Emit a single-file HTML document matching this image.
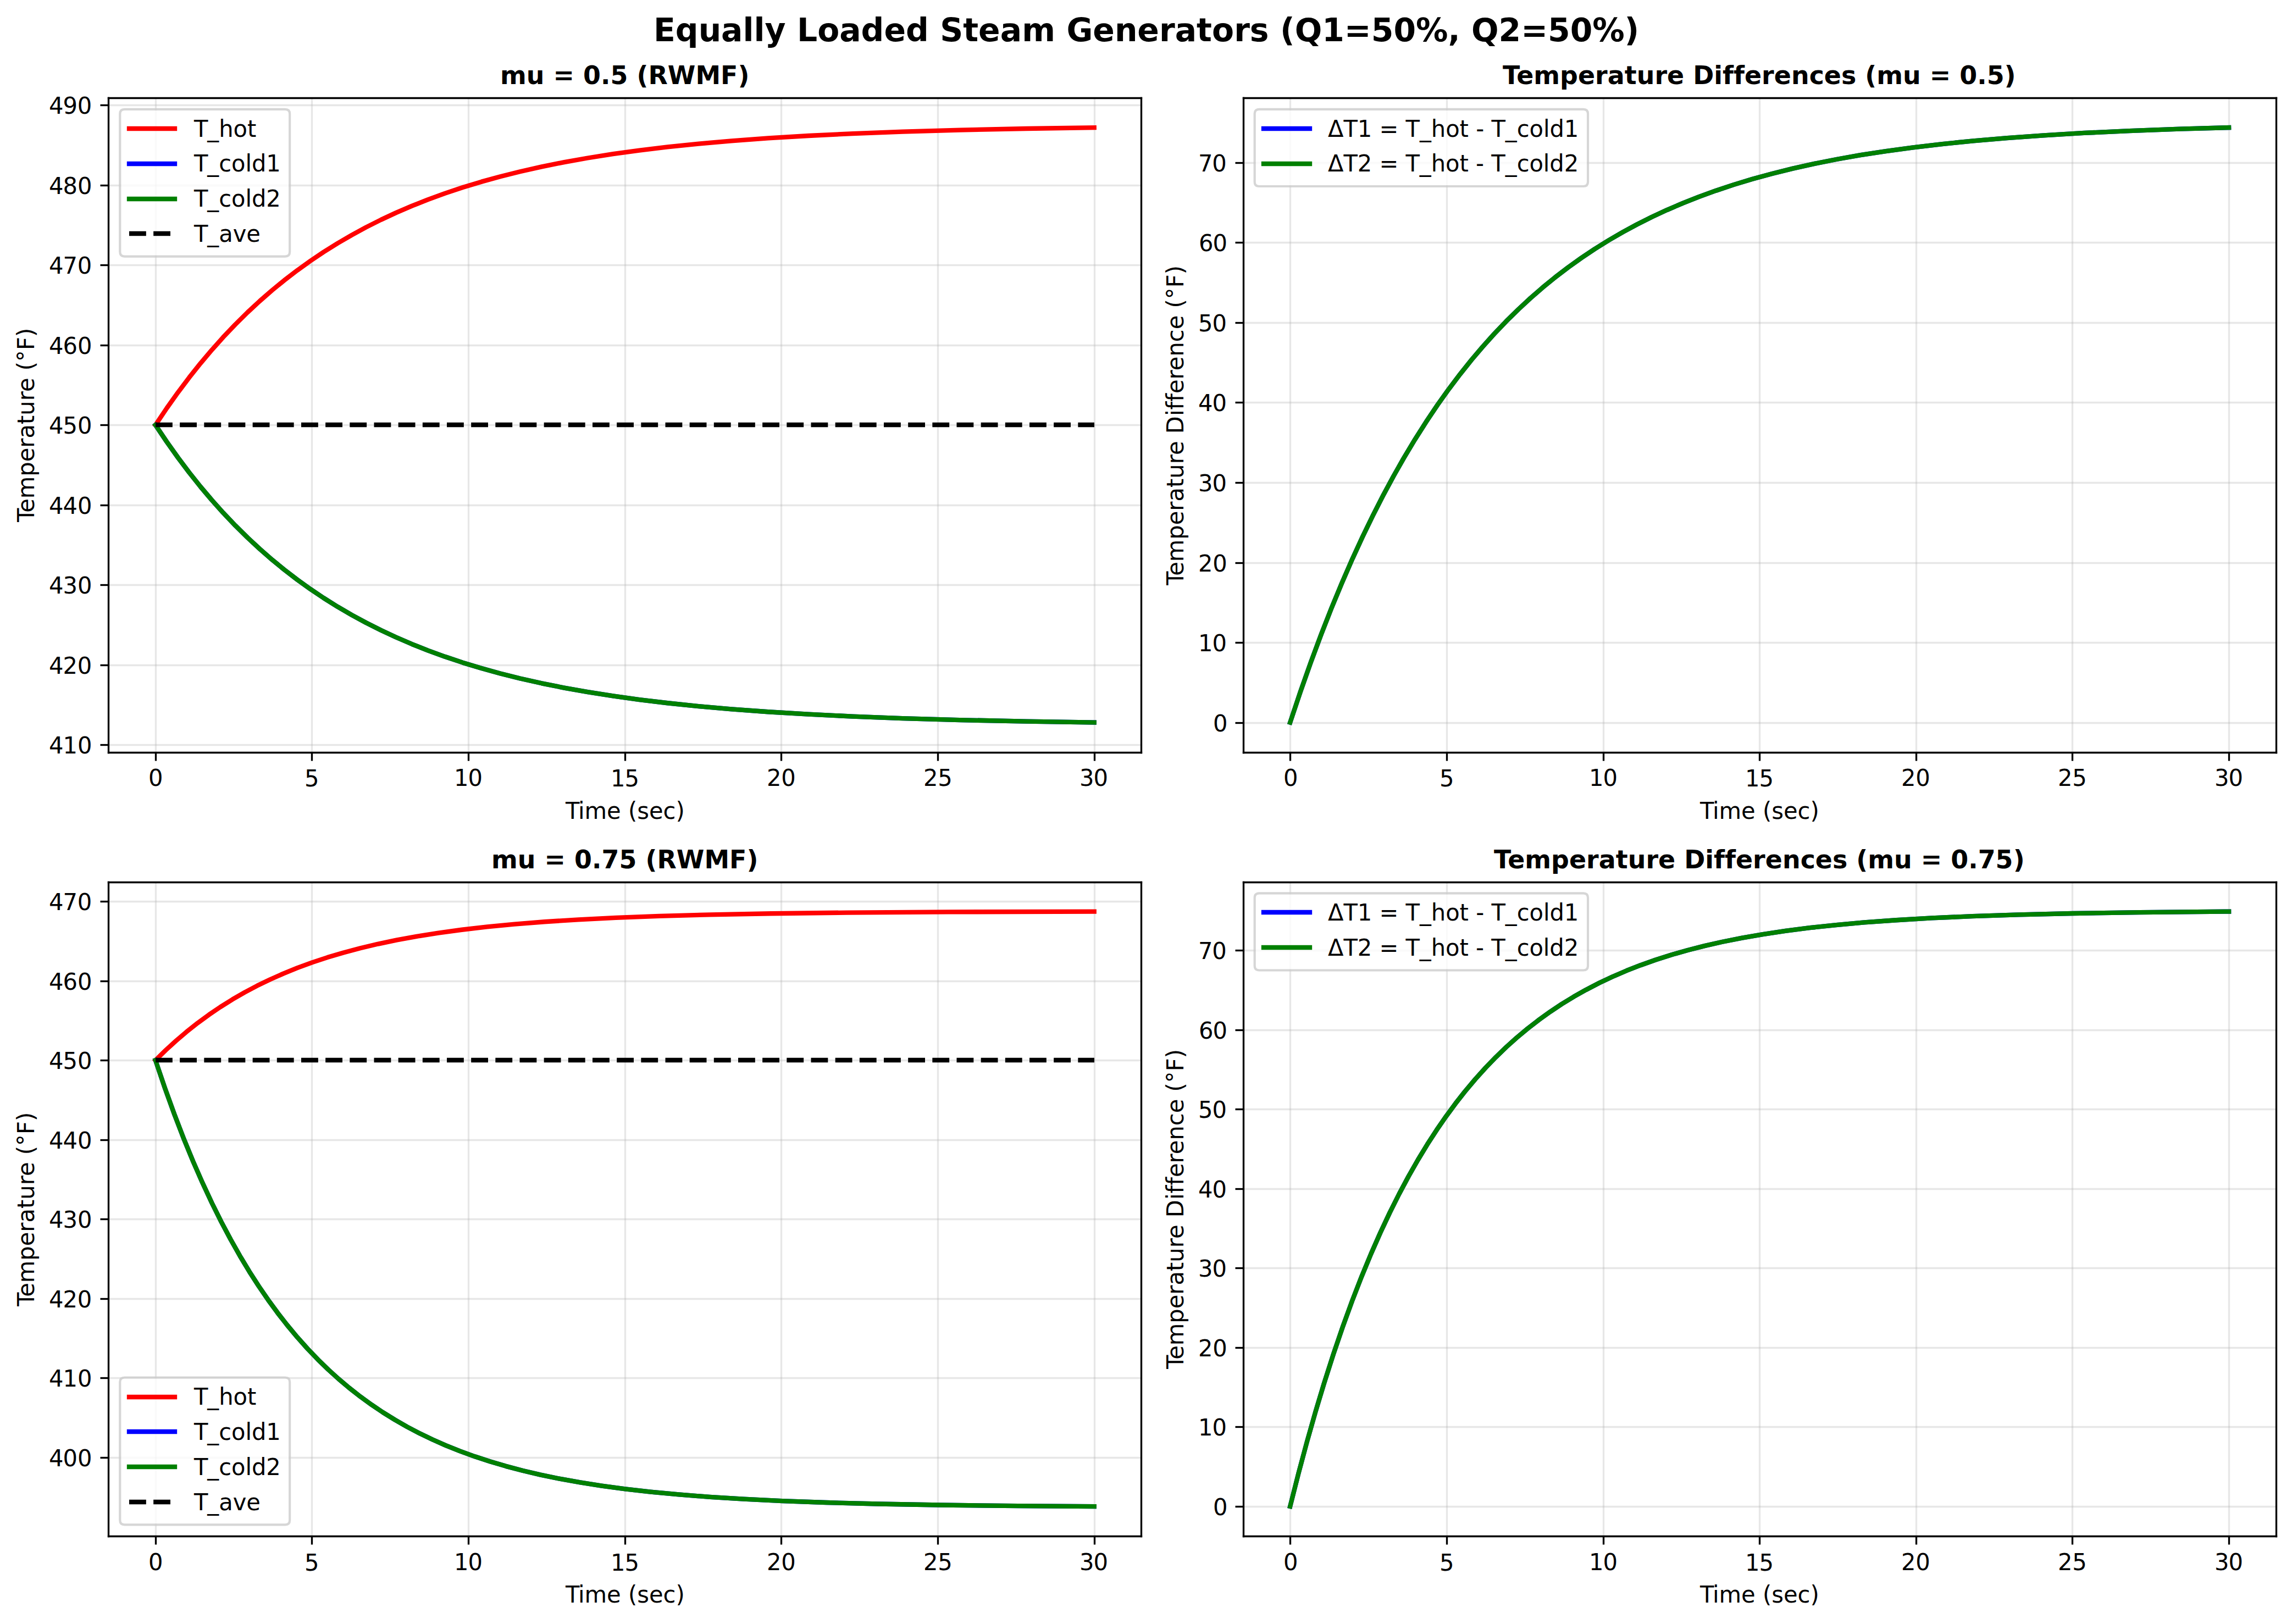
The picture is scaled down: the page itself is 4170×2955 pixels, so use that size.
<!DOCTYPE html>
<html lang="en"><head><meta charset="utf-8"><title>Equally Loaded Steam Generators</title>
<style>
html,body{margin:0;padding:0;background:#fff;width:4170px;height:2955px;overflow:hidden}
svg{display:block;position:absolute;left:0;top:0;font-family:"DejaVu Sans","Liberation Sans",sans-serif}
svg text{font-variant-ligatures:none;font-feature-settings:"liga" 0,"clig" 0;white-space:pre}
#fig{position:absolute;left:0;top:0;width:4170px;height:2955px;overflow:hidden;background:#fff}
</style></head><body>
<div id="fig">
<svg width="4170.500" height="2955.000" viewBox="0 0 1000.92 709.2">
 <defs>
  <style type="text/css">*{stroke-linejoin: round; stroke-linecap: butt}</style>
 </defs>
 <g id="figure_1">
  <g id="patch_1">
   <path d="M 0 709.2 L 1001.04 709.2 L 1001.04 0 L 0 0 z" style="fill: #ffffff"/>
  </g>
  <g id="axes_1">
   <g id="patch_2">
    <path d="M 47.28 328.56 L 498.24 328.56 L 498.24 42.72 L 47.28 42.72 z" style="fill: #ffffff"/>
   </g>
   <g id="matplotlib.axis_1">
    <g id="xtick_1">
     <g id="line2d_1">
      <path d="M 68.04 328.68 L 68.04 42.84" clip-path="url(#p6d84f502f7)" style="fill: none; stroke: #b0b0b0; stroke-opacity: 0.3; stroke-width: 0.8; stroke-linecap: square"/>
     </g>
     <g id="line2d_2">
      <defs>
       <path id="m1504cfccaf" d="M 0.12 0.12 L 0.12 3.72" style="stroke: #000000; stroke-width: 0.8"/>
      </defs>
      <g>
       <use href="#m1504cfccaf" x="67.92" y="328.56" style="stroke: #000000; stroke-width: 0.8"/>
      </g>
     </g>
     <g id="text_1">
      <text style="font-size: 10px; font-family: 'DejaVu Sans', 'Liberation Sans', sans-serif" transform="translate(64.56 343.2) scale(1 1.02)" x="0.24">0</text>
     </g>
    </g>
    <g id="xtick_2">
     <g id="line2d_3">
      <path d="M 136.2 328.68 L 136.2 42.84" clip-path="url(#p6d84f502f7)" style="fill: none; stroke: #b0b0b0; stroke-opacity: 0.3; stroke-width: 0.8; stroke-linecap: square"/>
     </g>
     <g id="line2d_4">
      <g>
       <use href="#m1504cfccaf" x="136.08" y="328.56" style="stroke: #000000; stroke-width: 0.8"/>
      </g>
     </g>
     <g id="text_2">
      <text style="font-size: 10px; font-family: 'DejaVu Sans', 'Liberation Sans', sans-serif" transform="translate(132.72 343.44) scale(1 1.02)" x="0.24">5</text>
     </g>
    </g>
    <g id="xtick_3">
     <g id="line2d_5">
      <path d="M 204.6 328.68 L 204.6 42.84" clip-path="url(#p6d84f502f7)" style="fill: none; stroke: #b0b0b0; stroke-opacity: 0.3; stroke-width: 0.8; stroke-linecap: square"/>
     </g>
     <g id="line2d_6">
      <g>
       <use href="#m1504cfccaf" x="204.48" y="328.56" style="stroke: #000000; stroke-width: 0.8"/>
      </g>
     </g>
     <g id="text_3">
      <text style="font-size: 10px; font-family: 'DejaVu Sans', 'Liberation Sans', sans-serif" transform="translate(198 343.2) scale(1 1.02)" x="0.24 6.36">10</text>
     </g>
    </g>
    <g id="xtick_4">
     <g id="line2d_7">
      <path d="M 273 328.68 L 273 42.84" clip-path="url(#p6d84f502f7)" style="fill: none; stroke: #b0b0b0; stroke-opacity: 0.3; stroke-width: 0.8; stroke-linecap: square"/>
     </g>
     <g id="line2d_8">
      <g>
       <use href="#m1504cfccaf" x="272.88" y="328.56" style="stroke: #000000; stroke-width: 0.8"/>
      </g>
     </g>
     <g id="text_4">
      <text style="font-size: 10px; font-family: 'DejaVu Sans', 'Liberation Sans', sans-serif" transform="translate(266.4 343.44) scale(1 1.02)" x="0.24 6.36">15</text>
     </g>
    </g>
    <g id="xtick_5">
     <g id="line2d_9">
      <path d="M 341.16 328.68 L 341.16 42.84" clip-path="url(#p6d84f502f7)" style="fill: none; stroke: #b0b0b0; stroke-opacity: 0.3; stroke-width: 0.8; stroke-linecap: square"/>
     </g>
     <g id="line2d_10">
      <g>
       <use href="#m1504cfccaf" x="341.04" y="328.56" style="stroke: #000000; stroke-width: 0.8"/>
      </g>
     </g>
     <g id="text_5">
      <text style="font-size: 10px; font-family: 'DejaVu Sans', 'Liberation Sans', sans-serif" transform="translate(334.8 343.2) scale(1 1.02)" x="0 6.33">20</text>
     </g>
    </g>
    <g id="xtick_6">
     <g id="line2d_11">
      <path d="M 409.56 328.68 L 409.56 42.84" clip-path="url(#p6d84f502f7)" style="fill: none; stroke: #b0b0b0; stroke-opacity: 0.3; stroke-width: 0.8; stroke-linecap: square"/>
     </g>
     <g id="line2d_12">
      <g>
       <use href="#m1504cfccaf" x="409.44" y="328.56" style="stroke: #000000; stroke-width: 0.8"/>
      </g>
     </g>
     <g id="text_6">
      <text style="font-size: 10px; font-family: 'DejaVu Sans', 'Liberation Sans', sans-serif" transform="translate(403.2 343.2) scale(1 1.02)" x="0 6.33">25</text>
     </g>
    </g>
    <g id="xtick_7">
     <g id="line2d_13">
      <path d="M 477.96 328.68 L 477.96 42.84" clip-path="url(#p6d84f502f7)" style="fill: none; stroke: #b0b0b0; stroke-opacity: 0.3; stroke-width: 0.8; stroke-linecap: square"/>
     </g>
     <g id="line2d_14">
      <g>
       <use href="#m1504cfccaf" x="477.84" y="328.56" style="stroke: #000000; stroke-width: 0.8"/>
      </g>
     </g>
     <g id="text_7">
      <text style="font-size: 10px; font-family: 'DejaVu Sans', 'Liberation Sans', sans-serif" transform="translate(471.12 343.2) scale(1 1.02)" x="0.24 6.39">30</text>
     </g>
    </g>
    <g id="text_8">
     <text style="font-size: 10px; font-family: 'DejaVu Sans', 'Liberation Sans', sans-serif" transform="translate(246.72 357.6) scale(1 1.02)" x="0.24 5.79 8.55 18.27 24.42 27.6 31.5 36.72 42.87 48.36">Time (sec)</text>
    </g>
   </g>
   <g id="matplotlib.axis_2">
    <g id="ytick_1">
     <g id="line2d_15">
      <path d="M 47.4 325.32 L 498.36 325.32" clip-path="url(#p6d84f502f7)" style="fill: none; stroke: #b0b0b0; stroke-opacity: 0.3; stroke-width: 0.8; stroke-linecap: square"/>
     </g>
     <g id="line2d_16">
      <defs>
       <path id="m5d545ce8f8" d="M 0.12 0.12 L -3.48 0.12" style="stroke: #000000; stroke-width: 0.8"/>
      </defs>
      <g>
       <use href="#m5d545ce8f8" x="47.28" y="325.2" style="stroke: #000000; stroke-width: 0.8"/>
      </g>
     </g>
     <g id="text_9">
      <text style="font-size: 10px; font-family: 'DejaVu Sans', 'Liberation Sans', sans-serif" transform="translate(21.12 329.04) scale(1 1.02)" x="0.24 6.36 12.72">410</text>
     </g>
    </g>
    <g id="ytick_2">
     <g id="line2d_17">
      <path d="M 47.4 290.52 L 498.36 290.52" clip-path="url(#p6d84f502f7)" style="fill: none; stroke: #b0b0b0; stroke-opacity: 0.3; stroke-width: 0.8; stroke-linecap: square"/>
     </g>
     <g id="line2d_18">
      <g>
       <use href="#m5d545ce8f8" x="47.28" y="290.4" style="stroke: #000000; stroke-width: 0.8"/>
      </g>
     </g>
     <g id="text_10">
      <text style="font-size: 10px; font-family: 'DejaVu Sans', 'Liberation Sans', sans-serif" transform="translate(21.12 294.24) scale(1 1.02)" x="0.24 6.36 12.69">420</text>
     </g>
    </g>
    <g id="ytick_3">
     <g id="line2d_19">
      <path d="M 47.4 255.48 L 498.36 255.48" clip-path="url(#p6d84f502f7)" style="fill: none; stroke: #b0b0b0; stroke-opacity: 0.3; stroke-width: 0.8; stroke-linecap: square"/>
     </g>
     <g id="line2d_20">
      <g>
       <use href="#m5d545ce8f8" x="47.28" y="255.36" style="stroke: #000000; stroke-width: 0.8"/>
      </g>
     </g>
     <g id="text_11">
      <text style="font-size: 10px; font-family: 'DejaVu Sans', 'Liberation Sans', sans-serif" transform="translate(21.12 259.2) scale(1 1.02)" x="0.24 6.36 12.75">430</text>
     </g>
    </g>
    <g id="ytick_4">
     <g id="line2d_21">
      <path d="M 47.4 220.68 L 498.36 220.68" clip-path="url(#p6d84f502f7)" style="fill: none; stroke: #b0b0b0; stroke-opacity: 0.3; stroke-width: 0.8; stroke-linecap: square"/>
     </g>
     <g id="line2d_22">
      <g>
       <use href="#m5d545ce8f8" x="47.28" y="220.56" style="stroke: #000000; stroke-width: 0.8"/>
      </g>
     </g>
     <g id="text_12">
      <text style="font-size: 10px; font-family: 'DejaVu Sans', 'Liberation Sans', sans-serif" transform="translate(21.12 224.4) scale(1 1.02)" x="0.24 6.36 12.72">440</text>
     </g>
    </g>
    <g id="ytick_5">
     <g id="line2d_23">
      <path d="M 47.4 185.64 L 498.36 185.64" clip-path="url(#p6d84f502f7)" style="fill: none; stroke: #b0b0b0; stroke-opacity: 0.3; stroke-width: 0.8; stroke-linecap: square"/>
     </g>
     <g id="line2d_24">
      <g>
       <use href="#m5d545ce8f8" x="47.28" y="185.52" style="stroke: #000000; stroke-width: 0.8"/>
      </g>
     </g>
     <g id="text_13">
      <text style="font-size: 10px; font-family: 'DejaVu Sans', 'Liberation Sans', sans-serif" transform="translate(21.12 189.36) scale(1 1.02)" x="0.24 6.36 12.72">450</text>
     </g>
    </g>
    <g id="ytick_6">
     <g id="line2d_25">
      <path d="M 47.4 150.84 L 498.36 150.84" clip-path="url(#p6d84f502f7)" style="fill: none; stroke: #b0b0b0; stroke-opacity: 0.3; stroke-width: 0.8; stroke-linecap: square"/>
     </g>
     <g id="line2d_26">
      <g>
       <use href="#m5d545ce8f8" x="47.28" y="150.72" style="stroke: #000000; stroke-width: 0.8"/>
      </g>
     </g>
     <g id="text_14">
      <text style="font-size: 10px; font-family: 'DejaVu Sans', 'Liberation Sans', sans-serif" transform="translate(21.12 154.56) scale(1 1.02)" x="0.24 6.36 12.72">460</text>
     </g>
    </g>
    <g id="ytick_7">
     <g id="line2d_27">
      <path d="M 47.4 115.8 L 498.36 115.8" clip-path="url(#p6d84f502f7)" style="fill: none; stroke: #b0b0b0; stroke-opacity: 0.3; stroke-width: 0.8; stroke-linecap: square"/>
     </g>
     <g id="line2d_28">
      <g>
       <use href="#m5d545ce8f8" x="47.28" y="115.68" style="stroke: #000000; stroke-width: 0.8"/>
      </g>
     </g>
     <g id="text_15">
      <text style="font-size: 10px; font-family: 'DejaVu Sans', 'Liberation Sans', sans-serif" transform="translate(21.12 119.52) scale(1 1.02)" x="0.24 6.36 12.69">470</text>
     </g>
    </g>
    <g id="ytick_8">
     <g id="line2d_29">
      <path d="M 47.4 81 L 498.36 81" clip-path="url(#p6d84f502f7)" style="fill: none; stroke: #b0b0b0; stroke-opacity: 0.3; stroke-width: 0.8; stroke-linecap: square"/>
     </g>
     <g id="line2d_30">
      <g>
       <use href="#m5d545ce8f8" x="47.28" y="80.88" style="stroke: #000000; stroke-width: 0.8"/>
      </g>
     </g>
     <g id="text_16">
      <text style="font-size: 10px; font-family: 'DejaVu Sans', 'Liberation Sans', sans-serif" transform="translate(21.12 84.72) scale(1 1.02)" x="0.24 6.36 12.75">480</text>
     </g>
    </g>
    <g id="ytick_9">
     <g id="line2d_31">
      <path d="M 47.4 45.96 L 498.36 45.96" clip-path="url(#p6d84f502f7)" style="fill: none; stroke: #b0b0b0; stroke-opacity: 0.3; stroke-width: 0.8; stroke-linecap: square"/>
     </g>
     <g id="line2d_32">
      <g>
       <use href="#m5d545ce8f8" x="47.28" y="45.84" style="stroke: #000000; stroke-width: 0.8"/>
      </g>
     </g>
     <g id="text_17">
      <text style="font-size: 10px; font-family: 'DejaVu Sans', 'Liberation Sans', sans-serif" transform="translate(21.12 49.68) scale(1 1.02)" x="0.24 6.36 12.69">490</text>
     </g>
    </g>
    <g id="text_18">
     <text style="font-size: 10px; font-family: 'DejaVu Sans', 'Liberation Sans', sans-serif" transform="translate(14.88 228.24) rotate(-90) scale(1 1.02)" x="0.24 4.38 10.53 20.25 26.58 32.73 36.84 42.96 46.89 53.22 57.12 63.27 66.45 70.35 75.36 81.12">Temperature (°F)</text>
    </g>
   </g>
   <g id="line2d_33">
    <path d="M 67.884545 185.6 L 72.80816 178.262221 L 77.731775 171.335555 L 82.655389 164.79697 L 87.579004 158.624721 L 92.502618 152.798284 L 97.426233 147.298285 L 102.760148 141.687141 L 108.094064 136.415762 L 113.42798 131.463573 L 118.761896 126.811247 L 124.095811 122.440627 L 129.840028 118.029308 L 135.584245 113.904966 L 141.328462 110.048931 L 147.48298 106.195398 L 153.637498 102.609825 L 159.792017 99.273579 L 166.356836 95.970219 L 172.921655 92.911295 L 179.896776 89.90881 L 186.871896 87.141824 L 194.257318 84.448256 L 202.053041 81.846776 L 210.259065 79.3532 L 218.46509 77.088094 L 227.081415 74.932745 L 236.518343 72.80874 L 246.365572 70.828941 L 256.623102 68.995588 L 267.701235 67.247919 L 279.189669 65.659767 L 291.498705 64.179332 L 305.038645 62.779325 L 319.399187 61.518098 L 335.400935 60.341291 L 353.043887 59.275452 L 372.328043 58.33666 L 394.074008 57.503625 L 419.102381 56.773906 L 448.233767 56.15459 L 477.775455 55.709091 L 477.775455 55.709091" clip-path="url(#p6d84f502f7)" style="fill: none; stroke: #ff0000; stroke-width: 2; stroke-linecap: square"/>
   </g>
   <g id="line2d_34">
    <path d="M 67.884545 185.6 L 72.80816 192.937779 L 77.731775 199.864445 L 82.655389 206.40303 L 87.579004 212.575279 L 92.502618 218.401716 L 97.426233 223.901715 L 102.760148 229.512859 L 108.094064 234.784238 L 113.42798 239.736427 L 118.761896 244.388753 L 124.095811 248.759373 L 129.840028 253.170692 L 135.584245 257.295034 L 141.328462 261.151069 L 147.48298 265.004602 L 153.637498 268.590175 L 159.792017 271.926421 L 166.356836 275.229781 L 172.921655 278.288705 L 179.896776 281.29119 L 186.871896 284.058176 L 194.257318 286.751744 L 202.053041 289.353224 L 210.259065 291.8468 L 218.46509 294.111906 L 227.081415 296.267255 L 236.518343 298.39126 L 246.365572 300.371059 L 256.623102 302.204412 L 267.701235 303.952081 L 279.189669 305.540233 L 291.498705 307.020668 L 305.038645 308.420675 L 319.399187 309.681902 L 335.400935 310.858709 L 353.043887 311.924548 L 372.328043 312.86334 L 394.074008 313.696375 L 419.102381 314.426094 L 448.233767 315.04541 L 477.775455 315.490909 L 477.775455 315.490909" clip-path="url(#p6d84f502f7)" style="fill: none; stroke: #0000ff; stroke-width: 2; stroke-linecap: square"/>
   </g>
   <g id="line2d_35">
    <path d="M 67.884545 185.6 L 72.80816 192.937779 L 77.731775 199.864445 L 82.655389 206.40303 L 87.579004 212.575279 L 92.502618 218.401716 L 97.426233 223.901715 L 102.760148 229.512859 L 108.094064 234.784238 L 113.42798 239.736427 L 118.761896 244.388753 L 124.095811 248.759373 L 129.840028 253.170692 L 135.584245 257.295034 L 141.328462 261.151069 L 147.48298 265.004602 L 153.637498 268.590175 L 159.792017 271.926421 L 166.356836 275.229781 L 172.921655 278.288705 L 179.896776 281.29119 L 186.871896 284.058176 L 194.257318 286.751744 L 202.053041 289.353224 L 210.259065 291.8468 L 218.46509 294.111906 L 227.081415 296.267255 L 236.518343 298.39126 L 246.365572 300.371059 L 256.623102 302.204412 L 267.701235 303.952081 L 279.189669 305.540233 L 291.498705 307.020668 L 305.038645 308.420675 L 319.399187 309.681902 L 335.400935 310.858709 L 353.043887 311.924548 L 372.328043 312.86334 L 394.074008 313.696375 L 419.102381 314.426094 L 448.233767 315.04541 L 477.775455 315.490909 L 477.775455 315.490909" clip-path="url(#p6d84f502f7)" style="fill: none; stroke: #008000; stroke-width: 2; stroke-linecap: square"/>
   </g>
   <g id="line2d_36">
    <path d="M 67.92 185.52 L 477.84 185.52 L 477.84 185.52" clip-path="url(#p6d84f502f7)" style="fill: none; stroke-dasharray: 7.4,3.2; stroke-dashoffset: 0; stroke: #000000; stroke-width: 2"/>
   </g>
   <g id="patch_3">
    <path d="M 47.4 328.68 L 47.4 42.84" style="fill: none; stroke: #000000; stroke-width: 0.8; stroke-linejoin: miter; stroke-linecap: square"/>
   </g>
   <g id="patch_4">
    <path d="M 498.36 328.68 L 498.36 42.84" style="fill: none; stroke: #000000; stroke-width: 0.8; stroke-linejoin: miter; stroke-linecap: square"/>
   </g>
   <g id="patch_5">
    <path d="M 47.4 328.68 L 498.36 328.68" style="fill: none; stroke: #000000; stroke-width: 0.8; stroke-linejoin: miter; stroke-linecap: square"/>
   </g>
   <g id="patch_6">
    <path d="M 47.4 42.84 L 498.36 42.84" style="fill: none; stroke: #000000; stroke-width: 0.8; stroke-linejoin: miter; stroke-linecap: square"/>
   </g>
   <g id="text_19">
    <text style="font-weight: 700; font-size: 11px; font-family: 'DejaVu Sans', 'Liberation Sans', sans-serif" transform="translate(218.4 36.72)" x="0 11.46 19.32 23.16 32.4 36.24 43.92 48.09 55.77 59.61 64.65 73.14 85.29 96.27 103.8">mu = 0.5 (RWMF)</text>
   </g>
   <g id="legend_1">
    <g id="patch_7">
     <path d="M 54.39 112 L 124.52 112 Q 126.52 112 126.52 110 L 126.52 49.72 Q 126.52 47.72 124.52 47.72 L 54.39 47.72 Q 52.39 47.72 52.39 49.72 L 52.39 110 Q 52.39 112 54.39 112 z" style="fill: #ffffff; opacity: 0.8; stroke: #cccccc; stroke-linejoin: miter"/>
    </g>
    <g id="line2d_37">
     <path d="M 56.4 56.16 L 66.48 56.16 L 76.32 56.16" style="fill: none; stroke: #ff0000; stroke-width: 2; stroke-linecap: square"/>
    </g>
    <g id="text_20">
     <text style="font-size: 10px; font-family: 'DejaVu Sans', 'Liberation Sans', sans-serif" transform="translate(84.48 59.76) scale(1 1.02)" x="0.24 6.09 11.1 17.43 23.52">T_hot</text>
    </g>
    <g id="line2d_38">
     <path d="M 56.4 71.52 L 66.48 71.52 L 76.32 71.52" style="fill: none; stroke: #0000ff; stroke-width: 2; stroke-linecap: square"/>
    </g>
    <g id="text_21">
     <text style="font-size: 10px; font-family: 'DejaVu Sans', 'Liberation Sans', sans-serif" transform="translate(84.48 74.88) scale(1 1.02)" x="0.24 6.09 11.1 16.59 22.68 25.44 31.77">T_cold1</text>
    </g>
    <g id="line2d_39">
     <path d="M 56.4 86.88 L 66.48 86.88 L 76.32 86.88" style="fill: none; stroke: #008000; stroke-width: 2; stroke-linecap: square"/>
    </g>
    <g id="text_22">
     <text style="font-size: 10px; font-family: 'DejaVu Sans', 'Liberation Sans', sans-serif" transform="translate(84.48 90.24) scale(1 1.02)" x="0.24 6.09 11.1 16.59 22.68 25.44 31.77">T_cold2</text>
    </g>
    <g id="line2d_40">
     <path d="M 56.4 102 L 66.48 102 L 76.32 102" style="fill: none; stroke-dasharray: 7.4,3.2; stroke-dashoffset: 0; stroke: #000000; stroke-width: 2"/>
    </g>
    <g id="text_23">
     <text style="font-size: 10px; font-family: 'DejaVu Sans', 'Liberation Sans', sans-serif" transform="translate(84.48 105.6) scale(1 1.02)" x="0.24 6.09 11.1 17.22 23.13">T_ave</text>
    </g>
   </g>
  </g>
  <g id="axes_2">
   <g id="patch_8">
    <path d="M 542.88 328.56 L 993.84 328.56 L 993.84 42.72 L 542.88 42.72 z" style="fill: #ffffff"/>
   </g>
   <g id="matplotlib.axis_3">
    <g id="xtick_8">
     <g id="line2d_41">
      <path d="M 563.4 328.68 L 563.4 42.84" clip-path="url(#pb126fd6c91)" style="fill: none; stroke: #b0b0b0; stroke-opacity: 0.3; stroke-width: 0.8; stroke-linecap: square"/>
     </g>
     <g id="line2d_42">
      <g>
       <use href="#m1504cfccaf" x="563.28" y="328.56" style="stroke: #000000; stroke-width: 0.8"/>
      </g>
     </g>
     <g id="text_24">
      <text style="font-size: 10px; font-family: 'DejaVu Sans', 'Liberation Sans', sans-serif" transform="translate(560.16 343.2) scale(1 1.02)" x="0.24">0</text>
     </g>
    </g>
    <g id="xtick_9">
     <g id="line2d_43">
      <path d="M 631.8 328.68 L 631.8 42.84" clip-path="url(#pb126fd6c91)" style="fill: none; stroke: #b0b0b0; stroke-opacity: 0.3; stroke-width: 0.8; stroke-linecap: square"/>
     </g>
     <g id="line2d_44">
      <g>
       <use href="#m1504cfccaf" x="631.68" y="328.56" style="stroke: #000000; stroke-width: 0.8"/>
      </g>
     </g>
     <g id="text_25">
      <text style="font-size: 10px; font-family: 'DejaVu Sans', 'Liberation Sans', sans-serif" transform="translate(628.32 343.44) scale(1 1.02)" x="0.24">5</text>
     </g>
    </g>
    <g id="xtick_10">
     <g id="line2d_45">
      <path d="M 700.2 328.68 L 700.2 42.84" clip-path="url(#pb126fd6c91)" style="fill: none; stroke: #b0b0b0; stroke-opacity: 0.3; stroke-width: 0.8; stroke-linecap: square"/>
     </g>
     <g id="line2d_46">
      <g>
       <use href="#m1504cfccaf" x="700.08" y="328.56" style="stroke: #000000; stroke-width: 0.8"/>
      </g>
     </g>
     <g id="text_26">
      <text style="font-size: 10px; font-family: 'DejaVu Sans', 'Liberation Sans', sans-serif" transform="translate(693.6 343.2) scale(1 1.02)" x="0.24 6.36">10</text>
     </g>
    </g>
    <g id="xtick_11">
     <g id="line2d_47">
      <path d="M 768.36 328.68 L 768.36 42.84" clip-path="url(#pb126fd6c91)" style="fill: none; stroke: #b0b0b0; stroke-opacity: 0.3; stroke-width: 0.8; stroke-linecap: square"/>
     </g>
     <g id="line2d_48">
      <g>
       <use href="#m1504cfccaf" x="768.24" y="328.56" style="stroke: #000000; stroke-width: 0.8"/>
      </g>
     </g>
     <g id="text_27">
      <text style="font-size: 10px; font-family: 'DejaVu Sans', 'Liberation Sans', sans-serif" transform="translate(761.76 343.44) scale(1 1.02)" x="0.24 6.36">15</text>
     </g>
    </g>
    <g id="xtick_12">
     <g id="line2d_49">
      <path d="M 836.76 328.68 L 836.76 42.84" clip-path="url(#pb126fd6c91)" style="fill: none; stroke: #b0b0b0; stroke-opacity: 0.3; stroke-width: 0.8; stroke-linecap: square"/>
     </g>
     <g id="line2d_50">
      <g>
       <use href="#m1504cfccaf" x="836.64" y="328.56" style="stroke: #000000; stroke-width: 0.8"/>
      </g>
     </g>
     <g id="text_28">
      <text style="font-size: 10px; font-family: 'DejaVu Sans', 'Liberation Sans', sans-serif" transform="translate(830.16 343.2) scale(1 1.02)" x="0 6.33">20</text>
     </g>
    </g>
    <g id="xtick_13">
     <g id="line2d_51">
      <path d="M 904.92 328.68 L 904.92 42.84" clip-path="url(#pb126fd6c91)" style="fill: none; stroke: #b0b0b0; stroke-opacity: 0.3; stroke-width: 0.8; stroke-linecap: square"/>
     </g>
     <g id="line2d_52">
      <g>
       <use href="#m1504cfccaf" x="904.8" y="328.56" style="stroke: #000000; stroke-width: 0.8"/>
      </g>
     </g>
     <g id="text_29">
      <text style="font-size: 10px; font-family: 'DejaVu Sans', 'Liberation Sans', sans-serif" transform="translate(898.56 343.2) scale(1 1.02)" x="0 6.33">25</text>
     </g>
    </g>
    <g id="xtick_14">
     <g id="line2d_53">
      <path d="M 973.32 328.68 L 973.32 42.84" clip-path="url(#pb126fd6c91)" style="fill: none; stroke: #b0b0b0; stroke-opacity: 0.3; stroke-width: 0.8; stroke-linecap: square"/>
     </g>
     <g id="line2d_54">
      <g>
       <use href="#m1504cfccaf" x="973.2" y="328.56" style="stroke: #000000; stroke-width: 0.8"/>
      </g>
     </g>
     <g id="text_30">
      <text style="font-size: 10px; font-family: 'DejaVu Sans', 'Liberation Sans', sans-serif" transform="translate(966.72 343.2) scale(1 1.02)" x="0.24 6.39">30</text>
     </g>
    </g>
    <g id="text_31">
     <text style="font-size: 10px; font-family: 'DejaVu Sans', 'Liberation Sans', sans-serif" transform="translate(742.08 357.6) scale(1 1.02)" x="0.24 5.79 8.55 18.27 24.42 27.6 31.5 36.72 42.87 48.36">Time (sec)</text>
    </g>
   </g>
   <g id="matplotlib.axis_4">
    <g id="ytick_10">
     <g id="line2d_55">
      <path d="M 543 315.72 L 993.96 315.72" clip-path="url(#pb126fd6c91)" style="fill: none; stroke: #b0b0b0; stroke-opacity: 0.3; stroke-width: 0.8; stroke-linecap: square"/>
     </g>
     <g id="line2d_56">
      <g>
       <use href="#m5d545ce8f8" x="542.88" y="315.6" style="stroke: #000000; stroke-width: 0.8"/>
      </g>
     </g>
     <g id="text_32">
      <text style="font-size: 10px; font-family: 'DejaVu Sans', 'Liberation Sans', sans-serif" transform="translate(529.44 319.44) scale(1 1.02)" x="0.24">0</text>
     </g>
    </g>
    <g id="ytick_11">
     <g id="line2d_57">
      <path d="M 543 280.68 L 993.96 280.68" clip-path="url(#pb126fd6c91)" style="fill: none; stroke: #b0b0b0; stroke-opacity: 0.3; stroke-width: 0.8; stroke-linecap: square"/>
     </g>
     <g id="line2d_58">
      <g>
       <use href="#m5d545ce8f8" x="542.88" y="280.56" style="stroke: #000000; stroke-width: 0.8"/>
      </g>
     </g>
     <g id="text_33">
      <text style="font-size: 10px; font-family: 'DejaVu Sans', 'Liberation Sans', sans-serif" transform="translate(522.96 284.4) scale(1 1.02)" x="0.24 6.36">10</text>
     </g>
    </g>
    <g id="ytick_12">
     <g id="line2d_59">
      <path d="M 543 245.88 L 993.96 245.88" clip-path="url(#pb126fd6c91)" style="fill: none; stroke: #b0b0b0; stroke-opacity: 0.3; stroke-width: 0.8; stroke-linecap: square"/>
     </g>
     <g id="line2d_60">
      <g>
       <use href="#m5d545ce8f8" x="542.88" y="245.76" style="stroke: #000000; stroke-width: 0.8"/>
      </g>
     </g>
     <g id="text_34">
      <text style="font-size: 10px; font-family: 'DejaVu Sans', 'Liberation Sans', sans-serif" transform="translate(523.2 249.6) scale(1 1.02)" x="0 6.33">20</text>
     </g>
    </g>
    <g id="ytick_13">
     <g id="line2d_61">
      <path d="M 543 210.84 L 993.96 210.84" clip-path="url(#pb126fd6c91)" style="fill: none; stroke: #b0b0b0; stroke-opacity: 0.3; stroke-width: 0.8; stroke-linecap: square"/>
     </g>
     <g id="line2d_62">
      <g>
       <use href="#m5d545ce8f8" x="542.88" y="210.72" style="stroke: #000000; stroke-width: 0.8"/>
      </g>
     </g>
     <g id="text_35">
      <text style="font-size: 10px; font-family: 'DejaVu Sans', 'Liberation Sans', sans-serif" transform="translate(522.96 214.56) scale(1 1.02)" x="0.24 6.39">30</text>
     </g>
    </g>
    <g id="ytick_14">
     <g id="line2d_63">
      <path d="M 543 175.8 L 993.96 175.8" clip-path="url(#pb126fd6c91)" style="fill: none; stroke: #b0b0b0; stroke-opacity: 0.3; stroke-width: 0.8; stroke-linecap: square"/>
     </g>
     <g id="line2d_64">
      <g>
       <use href="#m5d545ce8f8" x="542.88" y="175.68" style="stroke: #000000; stroke-width: 0.8"/>
      </g>
     </g>
     <g id="text_36">
      <text style="font-size: 10px; font-family: 'DejaVu Sans', 'Liberation Sans', sans-serif" transform="translate(522.96 179.52) scale(1 1.02)" x="0.24 6.36">40</text>
     </g>
    </g>
    <g id="ytick_15">
     <g id="line2d_65">
      <path d="M 543 141 L 993.96 141" clip-path="url(#pb126fd6c91)" style="fill: none; stroke: #b0b0b0; stroke-opacity: 0.3; stroke-width: 0.8; stroke-linecap: square"/>
     </g>
     <g id="line2d_66">
      <g>
       <use href="#m5d545ce8f8" x="542.88" y="140.88" style="stroke: #000000; stroke-width: 0.8"/>
      </g>
     </g>
     <g id="text_37">
      <text style="font-size: 10px; font-family: 'DejaVu Sans', 'Liberation Sans', sans-serif" transform="translate(522.96 144.72) scale(1 1.02)" x="0.24 6.36">50</text>
     </g>
    </g>
    <g id="ytick_16">
     <g id="line2d_67">
      <path d="M 543 105.96 L 993.96 105.96" clip-path="url(#pb126fd6c91)" style="fill: none; stroke: #b0b0b0; stroke-opacity: 0.3; stroke-width: 0.8; stroke-linecap: square"/>
     </g>
     <g id="line2d_68">
      <g>
       <use href="#m5d545ce8f8" x="542.88" y="105.84" style="stroke: #000000; stroke-width: 0.8"/>
      </g>
     </g>
     <g id="text_38">
      <text style="font-size: 10px; font-family: 'DejaVu Sans', 'Liberation Sans', sans-serif" transform="translate(523.2 109.68) scale(1 1.02)" x="0.24 6.36">60</text>
     </g>
    </g>
    <g id="ytick_17">
     <g id="line2d_69">
      <path d="M 543 71.16 L 993.96 71.16" clip-path="url(#pb126fd6c91)" style="fill: none; stroke: #b0b0b0; stroke-opacity: 0.3; stroke-width: 0.8; stroke-linecap: square"/>
     </g>
     <g id="line2d_70">
      <g>
       <use href="#m5d545ce8f8" x="542.88" y="71.04" style="stroke: #000000; stroke-width: 0.8"/>
      </g>
     </g>
     <g id="text_39">
      <text style="font-size: 10px; font-family: 'DejaVu Sans', 'Liberation Sans', sans-serif" transform="translate(522.96 74.88) scale(1 1.02)" x="0.24 6.33">70</text>
     </g>
    </g>
    <g id="text_40">
     <text style="font-size: 10px; font-family: 'DejaVu Sans', 'Liberation Sans', sans-serif" transform="translate(516.72 255.84) rotate(-90) scale(1 1.02)" x="0.24 4.38 10.53 20.25 26.58 32.73 36.84 42.96 46.89 53.22 57.12 63.27 66.45 74.16 76.92 80.46 84 90.15 94.05 100.2 106.53 112.02 118.17 121.35 125.25 130.26 136.02">Temperature Difference (°F)</text>
    </g>
   </g>
   <g id="line2d_71">
    <path d="M 563.334545 315.490909 L 567.847859 302.006255 L 572.361172 289.215797 L 576.874485 277.083797 L 581.387799 265.576358 L 585.901112 254.661326 L 590.414425 244.308205 L 594.927739 234.488067 L 599.441052 225.173474 L 603.954365 216.3384 L 608.467679 207.958159 L 612.980992 200.009337 L 617.904606 191.803859 L 622.828221 184.058109 L 627.751835 176.746329 L 632.67545 169.844206 L 637.599065 163.328788 L 642.522679 157.178409 L 647.446294 151.372617 L 652.369908 145.892106 L 657.703824 140.300843 L 663.03774 135.048141 L 668.371655 130.113499 L 673.705571 125.477657 L 679.039487 121.122524 L 684.783704 116.726835 L 690.527921 112.617106 L 696.272138 108.774734 L 702.426656 104.934855 L 708.581174 101.361986 L 714.735692 98.037561 L 721.300511 94.745906 L 727.865331 91.69782 L 734.840451 88.705974 L 741.815572 85.948792 L 749.200994 83.264768 L 756.996717 80.672505 L 765.202741 78.187765 L 773.819066 75.823424 L 782.845693 73.589506 L 792.282621 71.493268 L 802.12985 69.539351 L 812.38738 67.729965 L 823.465513 66.005143 L 835.364248 64.385581 L 848.083585 62.88655 L 861.623525 61.51806 L 876.394369 60.252958 L 892.396116 59.108156 L 910.039068 58.071305 L 929.733526 57.140767 L 951.889792 56.320943 L 973.225455 55.709091 L 973.225455 55.709091" clip-path="url(#pb126fd6c91)" style="fill: none; stroke: #0000ff; stroke-width: 2; stroke-linecap: square"/>
   </g>
   <g id="line2d_72">
    <path d="M 563.334545 315.490909 L 567.847859 302.006255 L 572.361172 289.215797 L 576.874485 277.083797 L 581.387799 265.576358 L 585.901112 254.661326 L 590.414425 244.308205 L 594.927739 234.488067 L 599.441052 225.173474 L 603.954365 216.3384 L 608.467679 207.958159 L 612.980992 200.009337 L 617.904606 191.803859 L 622.828221 184.058109 L 627.751835 176.746329 L 632.67545 169.844206 L 637.599065 163.328788 L 642.522679 157.178409 L 647.446294 151.372617 L 652.369908 145.892106 L 657.703824 140.300843 L 663.03774 135.048141 L 668.371655 130.113499 L 673.705571 125.477657 L 679.039487 121.122524 L 684.783704 116.726835 L 690.527921 112.617106 L 696.272138 108.774734 L 702.426656 104.934855 L 708.581174 101.361986 L 714.735692 98.037561 L 721.300511 94.745906 L 727.865331 91.69782 L 734.840451 88.705974 L 741.815572 85.948792 L 749.200994 83.264768 L 756.996717 80.672505 L 765.202741 78.187765 L 773.819066 75.823424 L 782.845693 73.589506 L 792.282621 71.493268 L 802.12985 69.539351 L 812.38738 67.729965 L 823.465513 66.005143 L 835.364248 64.385581 L 848.083585 62.88655 L 861.623525 61.51806 L 876.394369 60.252958 L 892.396116 59.108156 L 910.039068 58.071305 L 929.733526 57.140767 L 951.889792 56.320943 L 973.225455 55.709091 L 973.225455 55.709091" clip-path="url(#pb126fd6c91)" style="fill: none; stroke: #008000; stroke-width: 2; stroke-linecap: square"/>
   </g>
   <g id="patch_9">
    <path d="M 543 328.68 L 543 42.84" style="fill: none; stroke: #000000; stroke-width: 0.8; stroke-linejoin: miter; stroke-linecap: square"/>
   </g>
   <g id="patch_10">
    <path d="M 993.96 328.68 L 993.96 42.84" style="fill: none; stroke: #000000; stroke-width: 0.8; stroke-linejoin: miter; stroke-linecap: square"/>
   </g>
   <g id="patch_11">
    <path d="M 543 328.68 L 993.96 328.68" style="fill: none; stroke: #000000; stroke-width: 0.8; stroke-linejoin: miter; stroke-linecap: square"/>
   </g>
   <g id="patch_12">
    <path d="M 543 42.84 L 993.96 42.84" style="fill: none; stroke: #000000; stroke-width: 0.8; stroke-linejoin: miter; stroke-linecap: square"/>
   </g>
   <g id="text_41">
    <text style="font-weight: 700; font-size: 11px; font-family: 'DejaVu Sans', 'Liberation Sans', sans-serif" transform="translate(656.16 36.72)" x="0 6.06 13.53 24.99 32.88 40.35 45.78 53.22 58.47 66.33 71.76 79.23 83.07 92.22 96 100.8 105.6 113.07 118.5 125.97 133.83 140.37 147.84 154.38 158.22 163.26 174.72 182.58 186.42 195.66 199.5 207.18 211.35 219.03">Temperature Differences (mu = 0.5)</text>
   </g>
   <g id="legend_2">
    <g id="patch_13">
     <path d="M 549.84 81.36 L 691.37 81.36 Q 693.37 81.36 693.37 79.36 L 693.37 49.72 Q 693.37 47.72 691.37 47.72 L 549.84 47.72 Q 547.84 47.72 547.84 49.72 L 547.84 79.36 Q 547.84 81.36 549.84 81.36 z" style="fill: #ffffff; opacity: 0.8; stroke: #cccccc; stroke-linejoin: miter"/>
    </g>
    <g id="line2d_73">
     <path d="M 551.76 56.16 L 561.84 56.16 L 571.92 56.16" style="fill: none; stroke: #0000ff; stroke-width: 2; stroke-linecap: square"/>
    </g>
    <g id="text_42">
     <text style="font-size: 10px; font-family: 'DejaVu Sans', 'Liberation Sans', sans-serif" transform="translate(579.84 59.76) scale(1 1.02)" x="0 6.84 12.93 19.29 22.47 30.81 33.99 40.08 45.09 51.42 57.51 61.44 64.62 68.22 71.4 77.49 82.5 87.99 94.08 96.84 103.17">ΔT1 = T_hot - T_cold1</text>
    </g>
    <g id="line2d_74">
     <path d="M 551.76 71.52 L 561.84 71.52 L 571.92 71.52" style="fill: none; stroke: #008000; stroke-width: 2; stroke-linecap: square"/>
    </g>
    <g id="text_43">
     <text style="font-size: 10px; font-family: 'DejaVu Sans', 'Liberation Sans', sans-serif" transform="translate(579.84 74.88) scale(1 1.02)" x="0 6.84 12.93 19.26 22.44 30.78 33.96 40.05 45.06 51.39 57.48 61.41 64.59 68.19 71.37 77.46 82.47 87.96 94.05 96.81 103.14">ΔT2 = T_hot - T_cold2</text>
    </g>
   </g>
  </g>
  <g id="axes_3">
   <g id="patch_14">
    <path d="M 47.28 670.8 L 498.24 670.8 L 498.24 385.2 L 47.28 385.2 z" style="fill: #ffffff"/>
   </g>
   <g id="matplotlib.axis_5">
    <g id="xtick_15">
     <g id="line2d_75">
      <path d="M 68.04 670.92 L 68.04 385.32" clip-path="url(#p4c0c38dafc)" style="fill: none; stroke: #b0b0b0; stroke-opacity: 0.3; stroke-width: 0.8; stroke-linecap: square"/>
     </g>
     <g id="line2d_76">
      <g>
       <use href="#m1504cfccaf" x="67.92" y="670.8" style="stroke: #000000; stroke-width: 0.8"/>
      </g>
     </g>
     <g id="text_44">
      <text style="font-size: 10px; font-family: 'DejaVu Sans', 'Liberation Sans', sans-serif" transform="translate(64.56 685.68) scale(1 1.02)" x="0.24">0</text>
     </g>
    </g>
    <g id="xtick_16">
     <g id="line2d_77">
      <path d="M 136.2 670.92 L 136.2 385.32" clip-path="url(#p4c0c38dafc)" style="fill: none; stroke: #b0b0b0; stroke-opacity: 0.3; stroke-width: 0.8; stroke-linecap: square"/>
     </g>
     <g id="line2d_78">
      <g>
       <use href="#m1504cfccaf" x="136.08" y="670.8" style="stroke: #000000; stroke-width: 0.8"/>
      </g>
     </g>
     <g id="text_45">
      <text style="font-size: 10px; font-family: 'DejaVu Sans', 'Liberation Sans', sans-serif" transform="translate(132.72 685.92) scale(1 1.02)" x="0.24">5</text>
     </g>
    </g>
    <g id="xtick_17">
     <g id="line2d_79">
      <path d="M 204.6 670.92 L 204.6 385.32" clip-path="url(#p4c0c38dafc)" style="fill: none; stroke: #b0b0b0; stroke-opacity: 0.3; stroke-width: 0.8; stroke-linecap: square"/>
     </g>
     <g id="line2d_80">
      <g>
       <use href="#m1504cfccaf" x="204.48" y="670.8" style="stroke: #000000; stroke-width: 0.8"/>
      </g>
     </g>
     <g id="text_46">
      <text style="font-size: 10px; font-family: 'DejaVu Sans', 'Liberation Sans', sans-serif" transform="translate(198 685.68) scale(1 1.02)" x="0.24 6.36">10</text>
     </g>
    </g>
    <g id="xtick_18">
     <g id="line2d_81">
      <path d="M 273 670.92 L 273 385.32" clip-path="url(#p4c0c38dafc)" style="fill: none; stroke: #b0b0b0; stroke-opacity: 0.3; stroke-width: 0.8; stroke-linecap: square"/>
     </g>
     <g id="line2d_82">
      <g>
       <use href="#m1504cfccaf" x="272.88" y="670.8" style="stroke: #000000; stroke-width: 0.8"/>
      </g>
     </g>
     <g id="text_47">
      <text style="font-size: 10px; font-family: 'DejaVu Sans', 'Liberation Sans', sans-serif" transform="translate(266.4 685.92) scale(1 1.02)" x="0.24 6.36">15</text>
     </g>
    </g>
    <g id="xtick_19">
     <g id="line2d_83">
      <path d="M 341.16 670.92 L 341.16 385.32" clip-path="url(#p4c0c38dafc)" style="fill: none; stroke: #b0b0b0; stroke-opacity: 0.3; stroke-width: 0.8; stroke-linecap: square"/>
     </g>
     <g id="line2d_84">
      <g>
       <use href="#m1504cfccaf" x="341.04" y="670.8" style="stroke: #000000; stroke-width: 0.8"/>
      </g>
     </g>
     <g id="text_48">
      <text style="font-size: 10px; font-family: 'DejaVu Sans', 'Liberation Sans', sans-serif" transform="translate(334.8 685.68) scale(1 1.02)" x="0 6.33">20</text>
     </g>
    </g>
    <g id="xtick_20">
     <g id="line2d_85">
      <path d="M 409.56 670.92 L 409.56 385.32" clip-path="url(#p4c0c38dafc)" style="fill: none; stroke: #b0b0b0; stroke-opacity: 0.3; stroke-width: 0.8; stroke-linecap: square"/>
     </g>
     <g id="line2d_86">
      <g>
       <use href="#m1504cfccaf" x="409.44" y="670.8" style="stroke: #000000; stroke-width: 0.8"/>
      </g>
     </g>
     <g id="text_49">
      <text style="font-size: 10px; font-family: 'DejaVu Sans', 'Liberation Sans', sans-serif" transform="translate(403.2 685.68) scale(1 1.02)" x="0 6.33">25</text>
     </g>
    </g>
    <g id="xtick_21">
     <g id="line2d_87">
      <path d="M 477.96 670.92 L 477.96 385.32" clip-path="url(#p4c0c38dafc)" style="fill: none; stroke: #b0b0b0; stroke-opacity: 0.3; stroke-width: 0.8; stroke-linecap: square"/>
     </g>
     <g id="line2d_88">
      <g>
       <use href="#m1504cfccaf" x="477.84" y="670.8" style="stroke: #000000; stroke-width: 0.8"/>
      </g>
     </g>
     <g id="text_50">
      <text style="font-size: 10px; font-family: 'DejaVu Sans', 'Liberation Sans', sans-serif" transform="translate(471.12 685.68) scale(1 1.02)" x="0.24 6.39">30</text>
     </g>
    </g>
    <g id="text_51">
     <text style="font-size: 10px; font-family: 'DejaVu Sans', 'Liberation Sans', sans-serif" transform="translate(246.72 699.84) scale(1 1.02)" x="0.24 5.79 8.55 18.27 24.42 27.6 31.5 36.72 42.87 48.36">Time (sec)</text>
    </g>
   </g>
   <g id="matplotlib.axis_6">
    <g id="ytick_18">
     <g id="line2d_89">
      <path d="M 47.4 636.6 L 498.36 636.6" clip-path="url(#p4c0c38dafc)" style="fill: none; stroke: #b0b0b0; stroke-opacity: 0.3; stroke-width: 0.8; stroke-linecap: square"/>
     </g>
     <g id="line2d_90">
      <g>
       <use href="#m5d545ce8f8" x="47.28" y="636.48" style="stroke: #000000; stroke-width: 0.8"/>
      </g>
     </g>
     <g id="text_52">
      <text style="font-size: 10px; font-family: 'DejaVu Sans', 'Liberation Sans', sans-serif" transform="translate(21.12 640.32) scale(1 1.02)" x="0.24 6.36 12.72">400</text>
     </g>
    </g>
    <g id="ytick_19">
     <g id="line2d_91">
      <path d="M 47.4 601.8 L 498.36 601.8" clip-path="url(#p4c0c38dafc)" style="fill: none; stroke: #b0b0b0; stroke-opacity: 0.3; stroke-width: 0.8; stroke-linecap: square"/>
     </g>
     <g id="line2d_92">
      <g>
       <use href="#m5d545ce8f8" x="47.28" y="601.68" style="stroke: #000000; stroke-width: 0.8"/>
      </g>
     </g>
     <g id="text_53">
      <text style="font-size: 10px; font-family: 'DejaVu Sans', 'Liberation Sans', sans-serif" transform="translate(21.12 605.52) scale(1 1.02)" x="0.24 6.36 12.72">410</text>
     </g>
    </g>
    <g id="ytick_20">
     <g id="line2d_93">
      <path d="M 47.4 567.24 L 498.36 567.24" clip-path="url(#p4c0c38dafc)" style="fill: none; stroke: #b0b0b0; stroke-opacity: 0.3; stroke-width: 0.8; stroke-linecap: square"/>
     </g>
     <g id="line2d_94">
      <g>
       <use href="#m5d545ce8f8" x="47.28" y="567.12" style="stroke: #000000; stroke-width: 0.8"/>
      </g>
     </g>
     <g id="text_54">
      <text style="font-size: 10px; font-family: 'DejaVu Sans', 'Liberation Sans', sans-serif" transform="translate(21.12 570.96) scale(1 1.02)" x="0.24 6.36 12.69">420</text>
     </g>
    </g>
    <g id="ytick_21">
     <g id="line2d_95">
      <path d="M 47.4 532.44 L 498.36 532.44" clip-path="url(#p4c0c38dafc)" style="fill: none; stroke: #b0b0b0; stroke-opacity: 0.3; stroke-width: 0.8; stroke-linecap: square"/>
     </g>
     <g id="line2d_96">
      <g>
       <use href="#m5d545ce8f8" x="47.28" y="532.32" style="stroke: #000000; stroke-width: 0.8"/>
      </g>
     </g>
     <g id="text_55">
      <text style="font-size: 10px; font-family: 'DejaVu Sans', 'Liberation Sans', sans-serif" transform="translate(21.12 536.16) scale(1 1.02)" x="0.24 6.36 12.75">430</text>
     </g>
    </g>
    <g id="ytick_22">
     <g id="line2d_97">
      <path d="M 47.4 497.88 L 498.36 497.88" clip-path="url(#p4c0c38dafc)" style="fill: none; stroke: #b0b0b0; stroke-opacity: 0.3; stroke-width: 0.8; stroke-linecap: square"/>
     </g>
     <g id="line2d_98">
      <g>
       <use href="#m5d545ce8f8" x="47.28" y="497.76" style="stroke: #000000; stroke-width: 0.8"/>
      </g>
     </g>
     <g id="text_56">
      <text style="font-size: 10px; font-family: 'DejaVu Sans', 'Liberation Sans', sans-serif" transform="translate(21.12 501.6) scale(1 1.02)" x="0.24 6.36 12.72">440</text>
     </g>
    </g>
    <g id="ytick_23">
     <g id="line2d_99">
      <path d="M 47.4 463.08 L 498.36 463.08" clip-path="url(#p4c0c38dafc)" style="fill: none; stroke: #b0b0b0; stroke-opacity: 0.3; stroke-width: 0.8; stroke-linecap: square"/>
     </g>
     <g id="line2d_100">
      <g>
       <use href="#m5d545ce8f8" x="47.28" y="462.96" style="stroke: #000000; stroke-width: 0.8"/>
      </g>
     </g>
     <g id="text_57">
      <text style="font-size: 10px; font-family: 'DejaVu Sans', 'Liberation Sans', sans-serif" transform="translate(21.12 466.8) scale(1 1.02)" x="0.24 6.36 12.72">450</text>
     </g>
    </g>
    <g id="ytick_24">
     <g id="line2d_101">
      <path d="M 47.4 428.52 L 498.36 428.52" clip-path="url(#p4c0c38dafc)" style="fill: none; stroke: #b0b0b0; stroke-opacity: 0.3; stroke-width: 0.8; stroke-linecap: square"/>
     </g>
     <g id="line2d_102">
      <g>
       <use href="#m5d545ce8f8" x="47.28" y="428.4" style="stroke: #000000; stroke-width: 0.8"/>
      </g>
     </g>
     <g id="text_58">
      <text style="font-size: 10px; font-family: 'DejaVu Sans', 'Liberation Sans', sans-serif" transform="translate(21.12 432.24) scale(1 1.02)" x="0.24 6.36 12.72">460</text>
     </g>
    </g>
    <g id="ytick_25">
     <g id="line2d_103">
      <path d="M 47.4 393.72 L 498.36 393.72" clip-path="url(#p4c0c38dafc)" style="fill: none; stroke: #b0b0b0; stroke-opacity: 0.3; stroke-width: 0.8; stroke-linecap: square"/>
     </g>
     <g id="line2d_104">
      <g>
       <use href="#m5d545ce8f8" x="47.28" y="393.6" style="stroke: #000000; stroke-width: 0.8"/>
      </g>
     </g>
     <g id="text_59">
      <text style="font-size: 10px; font-family: 'DejaVu Sans', 'Liberation Sans', sans-serif" transform="translate(21.12 397.44) scale(1 1.02)" x="0.24 6.36 12.69">470</text>
     </g>
    </g>
    <g id="text_60">
     <text style="font-size: 10px; font-family: 'DejaVu Sans', 'Liberation Sans', sans-serif" transform="translate(14.88 570.72) rotate(-90) scale(1 1.02)" x="0.24 4.38 10.53 20.25 26.58 32.73 36.84 42.96 46.89 53.22 57.12 63.27 66.45 70.35 75.36 81.12">Temperature (°F)</text>
    </g>
   </g>
   <g id="line2d_105">
    <path d="M 67.884545 463.014545 L 72.397859 458.587994 L 76.911172 454.462646 L 81.424485 450.618006 L 86.3481 446.721591 L 91.271714 443.113495 L 96.195329 439.772385 L 101.529245 436.431257 L 106.86316 433.357116 L 112.197076 430.528629 L 117.941293 427.73481 L 123.68551 425.180658 L 129.840028 422.686704 L 136.404848 420.277825 L 142.969667 418.103628 L 149.944788 416.025153 L 157.330209 414.057698 L 165.125932 412.212931 L 173.331957 410.499003 L 181.948282 408.920753 L 191.38521 407.419203 L 201.64274 406.019459 L 212.720873 404.739456 L 224.619608 403.590179 L 237.749247 402.546773 L 252.52009 401.602254 L 268.932139 400.779125 L 287.805994 400.059824 L 309.96226 399.446025 L 336.631838 398.940234 L 369.866236 398.543805 L 414.178767 398.252769 L 477.775455 398.069091 L 477.775455 398.069091" clip-path="url(#p4c0c38dafc)" style="fill: none; stroke: #ff0000; stroke-width: 2; stroke-linecap: square"/>
   </g>
   <g id="line2d_106">
    <path d="M 67.884545 463.014545 L 71.987558 475.125256 L 76.09057 486.484436 L 80.193582 497.138721 L 84.296594 507.131853 L 88.399606 516.50486 L 92.502618 525.296225 L 96.60563 533.54204 L 100.708642 541.276161 L 104.811654 548.53034 L 108.914666 555.334361 L 113.017679 561.716157 L 117.120691 567.701931 L 121.223703 573.316256 L 125.326715 578.582185 L 129.840028 583.998069 L 134.353342 589.045432 L 138.866655 593.749347 L 143.379968 598.133186 L 147.893281 602.218728 L 152.406595 606.02627 L 157.330209 609.885088 L 162.253824 613.458369 L 167.177438 616.76724 L 172.511354 620.07613 L 177.84527 623.120607 L 183.179186 625.921802 L 188.923402 628.688663 L 194.667619 631.218169 L 200.822138 633.688059 L 207.386957 636.073695 L 213.951776 638.226912 L 220.926897 640.285332 L 228.312319 642.233802 L 236.108042 644.060768 L 244.314066 645.758158 L 253.340693 647.390492 L 262.77762 648.868057 L 273.035151 650.245443 L 284.113283 651.505 L 296.42232 652.671292 L 309.96226 653.720108 L 324.733103 654.637707 L 341.555453 655.454859 L 360.83961 656.162134 L 383.406176 656.759943 L 410.486056 657.247924 L 444.541057 657.630337 L 477.775455 657.850909 L 477.775455 657.850909" clip-path="url(#p4c0c38dafc)" style="fill: none; stroke: #0000ff; stroke-width: 2; stroke-linecap: square"/>
   </g>
   <g id="line2d_107">
    <path d="M 67.884545 463.014545 L 71.987558 475.125256 L 76.09057 486.484436 L 80.193582 497.138721 L 84.296594 507.131853 L 88.399606 516.50486 L 92.502618 525.296225 L 96.60563 533.54204 L 100.708642 541.276161 L 104.811654 548.53034 L 108.914666 555.334361 L 113.017679 561.716157 L 117.120691 567.701931 L 121.223703 573.316256 L 125.326715 578.582185 L 129.840028 583.998069 L 134.353342 589.045432 L 138.866655 593.749347 L 143.379968 598.133186 L 147.893281 602.218728 L 152.406595 606.02627 L 157.330209 609.885088 L 162.253824 613.458369 L 167.177438 616.76724 L 172.511354 620.07613 L 177.84527 623.120607 L 183.179186 625.921802 L 188.923402 628.688663 L 194.667619 631.218169 L 200.822138 633.688059 L 207.386957 636.073695 L 213.951776 638.226912 L 220.926897 640.285332 L 228.312319 642.233802 L 236.108042 644.060768 L 244.314066 645.758158 L 253.340693 647.390492 L 262.77762 648.868057 L 273.035151 650.245443 L 284.113283 651.505 L 296.42232 652.671292 L 309.96226 653.720108 L 324.733103 654.637707 L 341.555453 655.454859 L 360.83961 656.162134 L 383.406176 656.759943 L 410.486056 657.247924 L 444.541057 657.630337 L 477.775455 657.850909 L 477.775455 657.850909" clip-path="url(#p4c0c38dafc)" style="fill: none; stroke: #008000; stroke-width: 2; stroke-linecap: square"/>
   </g>
   <g id="line2d_108">
    <path d="M 67.92 462.96 L 477.84 462.96 L 477.84 462.96" clip-path="url(#p4c0c38dafc)" style="fill: none; stroke-dasharray: 7.4,3.2; stroke-dashoffset: 0; stroke: #000000; stroke-width: 2"/>
   </g>
   <g id="patch_15">
    <path d="M 47.4 670.92 L 47.4 385.32" style="fill: none; stroke: #000000; stroke-width: 0.8; stroke-linejoin: miter; stroke-linecap: square"/>
   </g>
   <g id="patch_16">
    <path d="M 498.36 670.92 L 498.36 385.32" style="fill: none; stroke: #000000; stroke-width: 0.8; stroke-linejoin: miter; stroke-linecap: square"/>
   </g>
   <g id="patch_17">
    <path d="M 47.4 670.92 L 498.36 670.92" style="fill: none; stroke: #000000; stroke-width: 0.8; stroke-linejoin: miter; stroke-linecap: square"/>
   </g>
   <g id="patch_18">
    <path d="M 47.4 385.32 L 498.36 385.32" style="fill: none; stroke: #000000; stroke-width: 0.8; stroke-linejoin: miter; stroke-linecap: square"/>
   </g>
   <g id="text_61">
    <text style="font-weight: 700; font-size: 11px; font-family: 'DejaVu Sans', 'Liberation Sans', sans-serif" transform="translate(214.56 379.2)" x="0 11.46 19.32 23.16 32.4 36.24 43.92 48.09 55.77 63.45 67.29 72.33 80.82 92.97 103.95 111.48">mu = 0.75 (RWMF)</text>
   </g>
   <g id="legend_3">
    <g id="patch_19">
     <path d="M 54.39 665.84 L 124.52 665.84 Q 126.52 665.84 126.52 663.84 L 126.52 603.56 Q 126.52 601.56 124.52 601.56 L 54.39 601.56 Q 52.39 601.56 52.39 603.56 L 52.39 663.84 Q 52.39 665.84 54.39 665.84 z" style="fill: #ffffff; opacity: 0.8; stroke: #cccccc; stroke-linejoin: miter"/>
    </g>
    <g id="line2d_109">
     <path d="M 56.4 610.08 L 66.48 610.08 L 76.32 610.08" style="fill: none; stroke: #ff0000; stroke-width: 2; stroke-linecap: square"/>
    </g>
    <g id="text_62">
     <text style="font-size: 10px; font-family: 'DejaVu Sans', 'Liberation Sans', sans-serif" transform="translate(84.48 613.44) scale(1 1.02)" x="0.24 6.09 11.1 17.43 23.52">T_hot</text>
    </g>
    <g id="line2d_110">
     <path d="M 56.4 625.2 L 66.48 625.2 L 76.32 625.2" style="fill: none; stroke: #0000ff; stroke-width: 2; stroke-linecap: square"/>
    </g>
    <g id="text_63">
     <text style="font-size: 10px; font-family: 'DejaVu Sans', 'Liberation Sans', sans-serif" transform="translate(84.48 628.8) scale(1 1.02)" x="0.24 6.09 11.1 16.59 22.68 25.44 31.77">T_cold1</text>
    </g>
    <g id="line2d_111">
     <path d="M 56.4 640.56 L 66.48 640.56 L 76.32 640.56" style="fill: none; stroke: #008000; stroke-width: 2; stroke-linecap: square"/>
    </g>
    <g id="text_64">
     <text style="font-size: 10px; font-family: 'DejaVu Sans', 'Liberation Sans', sans-serif" transform="translate(84.48 644.16) scale(1 1.02)" x="0.24 6.09 11.1 16.59 22.68 25.44 31.77">T_cold2</text>
    </g>
    <g id="line2d_112">
     <path d="M 56.4 655.92 L 66.48 655.92 L 76.32 655.92" style="fill: none; stroke-dasharray: 7.4,3.2; stroke-dashoffset: 0; stroke: #000000; stroke-width: 2"/>
    </g>
    <g id="text_65">
     <text style="font-size: 10px; font-family: 'DejaVu Sans', 'Liberation Sans', sans-serif" transform="translate(84.48 659.52) scale(1 1.02)" x="0.24 6.09 11.1 17.22 23.13">T_ave</text>
    </g>
   </g>
  </g>
  <g id="axes_4">
   <g id="patch_20">
    <path d="M 542.88 670.8 L 993.84 670.8 L 993.84 385.2 L 542.88 385.2 z" style="fill: #ffffff"/>
   </g>
   <g id="matplotlib.axis_7">
    <g id="xtick_22">
     <g id="line2d_113">
      <path d="M 563.4 670.92 L 563.4 385.32" clip-path="url(#p111b577c1d)" style="fill: none; stroke: #b0b0b0; stroke-opacity: 0.3; stroke-width: 0.8; stroke-linecap: square"/>
     </g>
     <g id="line2d_114">
      <g>
       <use href="#m1504cfccaf" x="563.28" y="670.8" style="stroke: #000000; stroke-width: 0.8"/>
      </g>
     </g>
     <g id="text_66">
      <text style="font-size: 10px; font-family: 'DejaVu Sans', 'Liberation Sans', sans-serif" transform="translate(560.16 685.68) scale(1 1.02)" x="0.24">0</text>
     </g>
    </g>
    <g id="xtick_23">
     <g id="line2d_115">
      <path d="M 631.8 670.92 L 631.8 385.32" clip-path="url(#p111b577c1d)" style="fill: none; stroke: #b0b0b0; stroke-opacity: 0.3; stroke-width: 0.8; stroke-linecap: square"/>
     </g>
     <g id="line2d_116">
      <g>
       <use href="#m1504cfccaf" x="631.68" y="670.8" style="stroke: #000000; stroke-width: 0.8"/>
      </g>
     </g>
     <g id="text_67">
      <text style="font-size: 10px; font-family: 'DejaVu Sans', 'Liberation Sans', sans-serif" transform="translate(628.32 685.92) scale(1 1.02)" x="0.24">5</text>
     </g>
    </g>
    <g id="xtick_24">
     <g id="line2d_117">
      <path d="M 700.2 670.92 L 700.2 385.32" clip-path="url(#p111b577c1d)" style="fill: none; stroke: #b0b0b0; stroke-opacity: 0.3; stroke-width: 0.8; stroke-linecap: square"/>
     </g>
     <g id="line2d_118">
      <g>
       <use href="#m1504cfccaf" x="700.08" y="670.8" style="stroke: #000000; stroke-width: 0.8"/>
      </g>
     </g>
     <g id="text_68">
      <text style="font-size: 10px; font-family: 'DejaVu Sans', 'Liberation Sans', sans-serif" transform="translate(693.6 685.68) scale(1 1.02)" x="0.24 6.36">10</text>
     </g>
    </g>
    <g id="xtick_25">
     <g id="line2d_119">
      <path d="M 768.36 670.92 L 768.36 385.32" clip-path="url(#p111b577c1d)" style="fill: none; stroke: #b0b0b0; stroke-opacity: 0.3; stroke-width: 0.8; stroke-linecap: square"/>
     </g>
     <g id="line2d_120">
      <g>
       <use href="#m1504cfccaf" x="768.24" y="670.8" style="stroke: #000000; stroke-width: 0.8"/>
      </g>
     </g>
     <g id="text_69">
      <text style="font-size: 10px; font-family: 'DejaVu Sans', 'Liberation Sans', sans-serif" transform="translate(761.76 685.92) scale(1 1.02)" x="0.24 6.36">15</text>
     </g>
    </g>
    <g id="xtick_26">
     <g id="line2d_121">
      <path d="M 836.76 670.92 L 836.76 385.32" clip-path="url(#p111b577c1d)" style="fill: none; stroke: #b0b0b0; stroke-opacity: 0.3; stroke-width: 0.8; stroke-linecap: square"/>
     </g>
     <g id="line2d_122">
      <g>
       <use href="#m1504cfccaf" x="836.64" y="670.8" style="stroke: #000000; stroke-width: 0.8"/>
      </g>
     </g>
     <g id="text_70">
      <text style="font-size: 10px; font-family: 'DejaVu Sans', 'Liberation Sans', sans-serif" transform="translate(830.16 685.68) scale(1 1.02)" x="0 6.33">20</text>
     </g>
    </g>
    <g id="xtick_27">
     <g id="line2d_123">
      <path d="M 904.92 670.92 L 904.92 385.32" clip-path="url(#p111b577c1d)" style="fill: none; stroke: #b0b0b0; stroke-opacity: 0.3; stroke-width: 0.8; stroke-linecap: square"/>
     </g>
     <g id="line2d_124">
      <g>
       <use href="#m1504cfccaf" x="904.8" y="670.8" style="stroke: #000000; stroke-width: 0.8"/>
      </g>
     </g>
     <g id="text_71">
      <text style="font-size: 10px; font-family: 'DejaVu Sans', 'Liberation Sans', sans-serif" transform="translate(898.56 685.68) scale(1 1.02)" x="0 6.33">25</text>
     </g>
    </g>
    <g id="xtick_28">
     <g id="line2d_125">
      <path d="M 973.32 670.92 L 973.32 385.32" clip-path="url(#p111b577c1d)" style="fill: none; stroke: #b0b0b0; stroke-opacity: 0.3; stroke-width: 0.8; stroke-linecap: square"/>
     </g>
     <g id="line2d_126">
      <g>
       <use href="#m1504cfccaf" x="973.2" y="670.8" style="stroke: #000000; stroke-width: 0.8"/>
      </g>
     </g>
     <g id="text_72">
      <text style="font-size: 10px; font-family: 'DejaVu Sans', 'Liberation Sans', sans-serif" transform="translate(966.72 685.68) scale(1 1.02)" x="0.24 6.39">30</text>
     </g>
    </g>
    <g id="text_73">
     <text style="font-size: 10px; font-family: 'DejaVu Sans', 'Liberation Sans', sans-serif" transform="translate(742.08 699.84) scale(1 1.02)" x="0.24 5.79 8.55 18.27 24.42 27.6 31.5 36.72 42.87 48.36">Time (sec)</text>
    </g>
   </g>
   <g id="matplotlib.axis_8">
    <g id="ytick_26">
     <g id="line2d_127">
      <path d="M 543 657.96 L 993.96 657.96" clip-path="url(#p111b577c1d)" style="fill: none; stroke: #b0b0b0; stroke-opacity: 0.3; stroke-width: 0.8; stroke-linecap: square"/>
     </g>
     <g id="line2d_128">
      <g>
       <use href="#m5d545ce8f8" x="542.88" y="657.84" style="stroke: #000000; stroke-width: 0.8"/>
      </g>
     </g>
     <g id="text_74">
      <text style="font-size: 10px; font-family: 'DejaVu Sans', 'Liberation Sans', sans-serif" transform="translate(529.44 661.68) scale(1 1.02)" x="0.24">0</text>
     </g>
    </g>
    <g id="ytick_27">
     <g id="line2d_129">
      <path d="M 543 623.16 L 993.96 623.16" clip-path="url(#p111b577c1d)" style="fill: none; stroke: #b0b0b0; stroke-opacity: 0.3; stroke-width: 0.8; stroke-linecap: square"/>
     </g>
     <g id="line2d_130">
      <g>
       <use href="#m5d545ce8f8" x="542.88" y="623.04" style="stroke: #000000; stroke-width: 0.8"/>
      </g>
     </g>
     <g id="text_75">
      <text style="font-size: 10px; font-family: 'DejaVu Sans', 'Liberation Sans', sans-serif" transform="translate(522.96 626.88) scale(1 1.02)" x="0.24 6.36">10</text>
     </g>
    </g>
    <g id="ytick_28">
     <g id="line2d_131">
      <path d="M 543 588.6 L 993.96 588.6" clip-path="url(#p111b577c1d)" style="fill: none; stroke: #b0b0b0; stroke-opacity: 0.3; stroke-width: 0.8; stroke-linecap: square"/>
     </g>
     <g id="line2d_132">
      <g>
       <use href="#m5d545ce8f8" x="542.88" y="588.48" style="stroke: #000000; stroke-width: 0.8"/>
      </g>
     </g>
     <g id="text_76">
      <text style="font-size: 10px; font-family: 'DejaVu Sans', 'Liberation Sans', sans-serif" transform="translate(523.2 592.32) scale(1 1.02)" x="0 6.33">20</text>
     </g>
    </g>
    <g id="ytick_29">
     <g id="line2d_133">
      <path d="M 543 553.8 L 993.96 553.8" clip-path="url(#p111b577c1d)" style="fill: none; stroke: #b0b0b0; stroke-opacity: 0.3; stroke-width: 0.8; stroke-linecap: square"/>
     </g>
     <g id="line2d_134">
      <g>
       <use href="#m5d545ce8f8" x="542.88" y="553.68" style="stroke: #000000; stroke-width: 0.8"/>
      </g>
     </g>
     <g id="text_77">
      <text style="font-size: 10px; font-family: 'DejaVu Sans', 'Liberation Sans', sans-serif" transform="translate(522.96 557.52) scale(1 1.02)" x="0.24 6.39">30</text>
     </g>
    </g>
    <g id="ytick_30">
     <g id="line2d_135">
      <path d="M 543 519.24 L 993.96 519.24" clip-path="url(#p111b577c1d)" style="fill: none; stroke: #b0b0b0; stroke-opacity: 0.3; stroke-width: 0.8; stroke-linecap: square"/>
     </g>
     <g id="line2d_136">
      <g>
       <use href="#m5d545ce8f8" x="542.88" y="519.12" style="stroke: #000000; stroke-width: 0.8"/>
      </g>
     </g>
     <g id="text_78">
      <text style="font-size: 10px; font-family: 'DejaVu Sans', 'Liberation Sans', sans-serif" transform="translate(522.96 522.96) scale(1 1.02)" x="0.24 6.36">40</text>
     </g>
    </g>
    <g id="ytick_31">
     <g id="line2d_137">
      <path d="M 543 484.44 L 993.96 484.44" clip-path="url(#p111b577c1d)" style="fill: none; stroke: #b0b0b0; stroke-opacity: 0.3; stroke-width: 0.8; stroke-linecap: square"/>
     </g>
     <g id="line2d_138">
      <g>
       <use href="#m5d545ce8f8" x="542.88" y="484.32" style="stroke: #000000; stroke-width: 0.8"/>
      </g>
     </g>
     <g id="text_79">
      <text style="font-size: 10px; font-family: 'DejaVu Sans', 'Liberation Sans', sans-serif" transform="translate(522.96 488.16) scale(1 1.02)" x="0.24 6.36">50</text>
     </g>
    </g>
    <g id="ytick_32">
     <g id="line2d_139">
      <path d="M 543 449.88 L 993.96 449.88" clip-path="url(#p111b577c1d)" style="fill: none; stroke: #b0b0b0; stroke-opacity: 0.3; stroke-width: 0.8; stroke-linecap: square"/>
     </g>
     <g id="line2d_140">
      <g>
       <use href="#m5d545ce8f8" x="542.88" y="449.76" style="stroke: #000000; stroke-width: 0.8"/>
      </g>
     </g>
     <g id="text_80">
      <text style="font-size: 10px; font-family: 'DejaVu Sans', 'Liberation Sans', sans-serif" transform="translate(523.2 453.6) scale(1 1.02)" x="0.24 6.36">60</text>
     </g>
    </g>
    <g id="ytick_33">
     <g id="line2d_141">
      <path d="M 543 415.08 L 993.96 415.08" clip-path="url(#p111b577c1d)" style="fill: none; stroke: #b0b0b0; stroke-opacity: 0.3; stroke-width: 0.8; stroke-linecap: square"/>
     </g>
     <g id="line2d_142">
      <g>
       <use href="#m5d545ce8f8" x="542.88" y="414.96" style="stroke: #000000; stroke-width: 0.8"/>
      </g>
     </g>
     <g id="text_81">
      <text style="font-size: 10px; font-family: 'DejaVu Sans', 'Liberation Sans', sans-serif" transform="translate(522.96 418.8) scale(1 1.02)" x="0.24 6.33">70</text>
     </g>
    </g>
    <g id="text_82">
     <text style="font-size: 10px; font-family: 'DejaVu Sans', 'Liberation Sans', sans-serif" transform="translate(516.72 598.08) rotate(-90) scale(1 1.02)" x="0.24 4.38 10.53 20.25 26.58 32.73 36.84 42.96 46.89 53.22 57.12 63.27 66.45 74.16 76.92 80.46 84 90.15 94.05 100.2 106.53 112.02 118.17 121.35 125.25 130.26 136.02">Temperature Difference (°F)</text>
    </g>
   </g>
   <g id="line2d_143">
    <path d="M 563.334545 657.850909 L 567.027256 643.271903 L 570.719967 629.509715 L 574.412678 616.51858 L 578.105389 604.255298 L 582.208401 591.433564 L 586.311413 579.407484 L 590.414425 568.127683 L 594.517437 557.547852 L 598.62045 547.624552 L 602.723462 538.317044 L 606.826474 529.587115 L 610.929486 521.398922 L 615.032498 513.718848 L 619.13551 506.515361 L 623.238522 499.758888 L 627.341534 493.421688 L 631.444546 487.477744 L 635.547558 481.902652 L 639.650571 476.673522 L 644.163884 471.295484 L 648.677197 466.283393 L 653.190511 461.612349 L 657.703824 457.259145 L 662.217137 453.202153 L 667.140752 449.090526 L 672.064366 445.283144 L 676.987981 441.757493 L 681.911595 438.492727 L 687.245511 435.227943 L 692.579427 432.224047 L 698.323644 429.256968 L 704.067861 426.54442 L 710.222379 423.895803 L 716.376897 421.489861 L 722.941716 419.165991 L 729.916837 416.944432 L 736.891957 414.952111 L 744.277379 413.066208 L 752.073102 411.297908 L 760.689428 409.578276 L 769.716054 408.008448 L 779.563283 406.530303 L 790.231115 405.165731 L 801.719549 403.929384 L 814.028585 402.829103 L 827.978826 401.81281 L 843.570272 400.910458 L 861.213224 400.122181 L 881.317983 399.452555 L 905.115454 398.889013 L 934.24684 398.431354 L 971.58425 398.080314 L 973.225455 398.069091 L 973.225455 398.069091" clip-path="url(#p111b577c1d)" style="fill: none; stroke: #0000ff; stroke-width: 2; stroke-linecap: square"/>
   </g>
   <g id="line2d_144">
    <path d="M 563.334545 657.850909 L 567.027256 643.271903 L 570.719967 629.509715 L 574.412678 616.51858 L 578.105389 604.255298 L 582.208401 591.433564 L 586.311413 579.407484 L 590.414425 568.127683 L 594.517437 557.547852 L 598.62045 547.624552 L 602.723462 538.317044 L 606.826474 529.587115 L 610.929486 521.398922 L 615.032498 513.718848 L 619.13551 506.515361 L 623.238522 499.758888 L 627.341534 493.421688 L 631.444546 487.477744 L 635.547558 481.902652 L 639.650571 476.673522 L 644.163884 471.295484 L 648.677197 466.283393 L 653.190511 461.612349 L 657.703824 457.259145 L 662.217137 453.202153 L 667.140752 449.090526 L 672.064366 445.283144 L 676.987981 441.757493 L 681.911595 438.492727 L 687.245511 435.227943 L 692.579427 432.224047 L 698.323644 429.256968 L 704.067861 426.54442 L 710.222379 423.895803 L 716.376897 421.489861 L 722.941716 419.165991 L 729.916837 416.944432 L 736.891957 414.952111 L 744.277379 413.066208 L 752.073102 411.297908 L 760.689428 409.578276 L 769.716054 408.008448 L 779.563283 406.530303 L 790.231115 405.165731 L 801.719549 403.929384 L 814.028585 402.829103 L 827.978826 401.81281 L 843.570272 400.910458 L 861.213224 400.122181 L 881.317983 399.452555 L 905.115454 398.889013 L 934.24684 398.431354 L 971.58425 398.080314 L 973.225455 398.069091 L 973.225455 398.069091" clip-path="url(#p111b577c1d)" style="fill: none; stroke: #008000; stroke-width: 2; stroke-linecap: square"/>
   </g>
   <g id="patch_21">
    <path d="M 543 670.92 L 543 385.32" style="fill: none; stroke: #000000; stroke-width: 0.8; stroke-linejoin: miter; stroke-linecap: square"/>
   </g>
   <g id="patch_22">
    <path d="M 993.96 670.92 L 993.96 385.32" style="fill: none; stroke: #000000; stroke-width: 0.8; stroke-linejoin: miter; stroke-linecap: square"/>
   </g>
   <g id="patch_23">
    <path d="M 543 670.92 L 993.96 670.92" style="fill: none; stroke: #000000; stroke-width: 0.8; stroke-linejoin: miter; stroke-linecap: square"/>
   </g>
   <g id="patch_24">
    <path d="M 543 385.32 L 993.96 385.32" style="fill: none; stroke: #000000; stroke-width: 0.8; stroke-linejoin: miter; stroke-linecap: square"/>
   </g>
   <g id="text_83">
    <text style="font-weight: 700; font-size: 11px; font-family: 'DejaVu Sans', 'Liberation Sans', sans-serif" transform="translate(652.32 379.2)" x="0 6.06 13.53 24.99 32.88 40.35 45.78 53.22 58.47 66.33 71.76 79.23 83.07 92.22 96 100.8 105.6 113.07 118.5 125.97 133.83 140.37 147.84 154.38 158.22 163.26 174.72 182.58 186.42 195.66 199.5 207.18 211.35 219.03 226.71">Temperature Differences (mu = 0.75)</text>
   </g>
   <g id="legend_4">
    <g id="patch_25">
     <path d="M 549.84 423.72 L 691.37 423.72 Q 693.37 423.72 693.37 421.72 L 693.37 392.08 Q 693.37 390.08 691.37 390.08 L 549.84 390.08 Q 547.84 390.08 547.84 392.08 L 547.84 421.72 Q 547.84 423.72 549.84 423.72 z" style="fill: #ffffff; opacity: 0.8; stroke: #cccccc; stroke-linejoin: miter"/>
    </g>
    <g id="line2d_145">
     <path d="M 551.76 398.4 L 561.84 398.4 L 571.92 398.4" style="fill: none; stroke: #0000ff; stroke-width: 2; stroke-linecap: square"/>
    </g>
    <g id="text_84">
     <text style="font-size: 10px; font-family: 'DejaVu Sans', 'Liberation Sans', sans-serif" transform="translate(579.84 402) scale(1 1.02)" x="0 6.84 12.93 19.29 22.47 30.81 33.99 40.08 45.09 51.42 57.51 61.44 64.62 68.22 71.4 77.49 82.5 87.99 94.08 96.84 103.17">ΔT1 = T_hot - T_cold1</text>
    </g>
    <g id="line2d_146">
     <path d="M 551.76 413.76 L 561.84 413.76 L 571.92 413.76" style="fill: none; stroke: #008000; stroke-width: 2; stroke-linecap: square"/>
    </g>
    <g id="text_85">
     <text style="font-size: 10px; font-family: 'DejaVu Sans', 'Liberation Sans', sans-serif" transform="translate(579.84 417.36) scale(1 1.02)" x="0 6.84 12.93 19.26 22.44 30.78 33.96 40.05 45.06 51.39 57.48 61.41 64.59 68.19 71.37 77.46 82.47 87.96 94.05 96.81 103.14">ΔT2 = T_hot - T_cold2</text>
    </g>
   </g>
  </g>
  <g id="text_86">
   <text style="font-weight: 700; font-size: 14px; font-family: 'DejaVu Sans', 'Liberation Sans', sans-serif" transform="translate(285.36 18)" x="0 9.57 19.59 29.55 39 43.8 48.6 57.72 62.61 71.55 81.18 90.63 100.65 110.16 120.18 125.07 135.18 141.87 151.38 160.83 175.44 180.33 191.82 201.33 211.29 220.8 227.7 237.15 243.84 253.47 260.37 268.71 273.6 280.02 291.9 301.65 313.35 323.13 332.85 346.89 352.23 357.12 369 378.75 390.45 400.23 409.95 423.99">Equally Loaded Steam Generators (Q1=50%, Q2=50%)</text>
  </g>
 </g>
 <defs>
  <clipPath id="p6d84f502f7">
   <rect x="47.39" y="42.72" width="450.88" height="285.76"/>
  </clipPath>
  <clipPath id="pb126fd6c91">
   <rect x="542.84" y="42.72" width="450.88" height="285.76"/>
  </clipPath>
  <clipPath id="p4c0c38dafc">
   <rect x="47.39" y="385.08" width="450.88" height="285.76"/>
  </clipPath>
  <clipPath id="p111b577c1d">
   <rect x="542.84" y="385.08" width="450.88" height="285.76"/>
  </clipPath>
 </defs>
</svg>

</div>
</body></html>
